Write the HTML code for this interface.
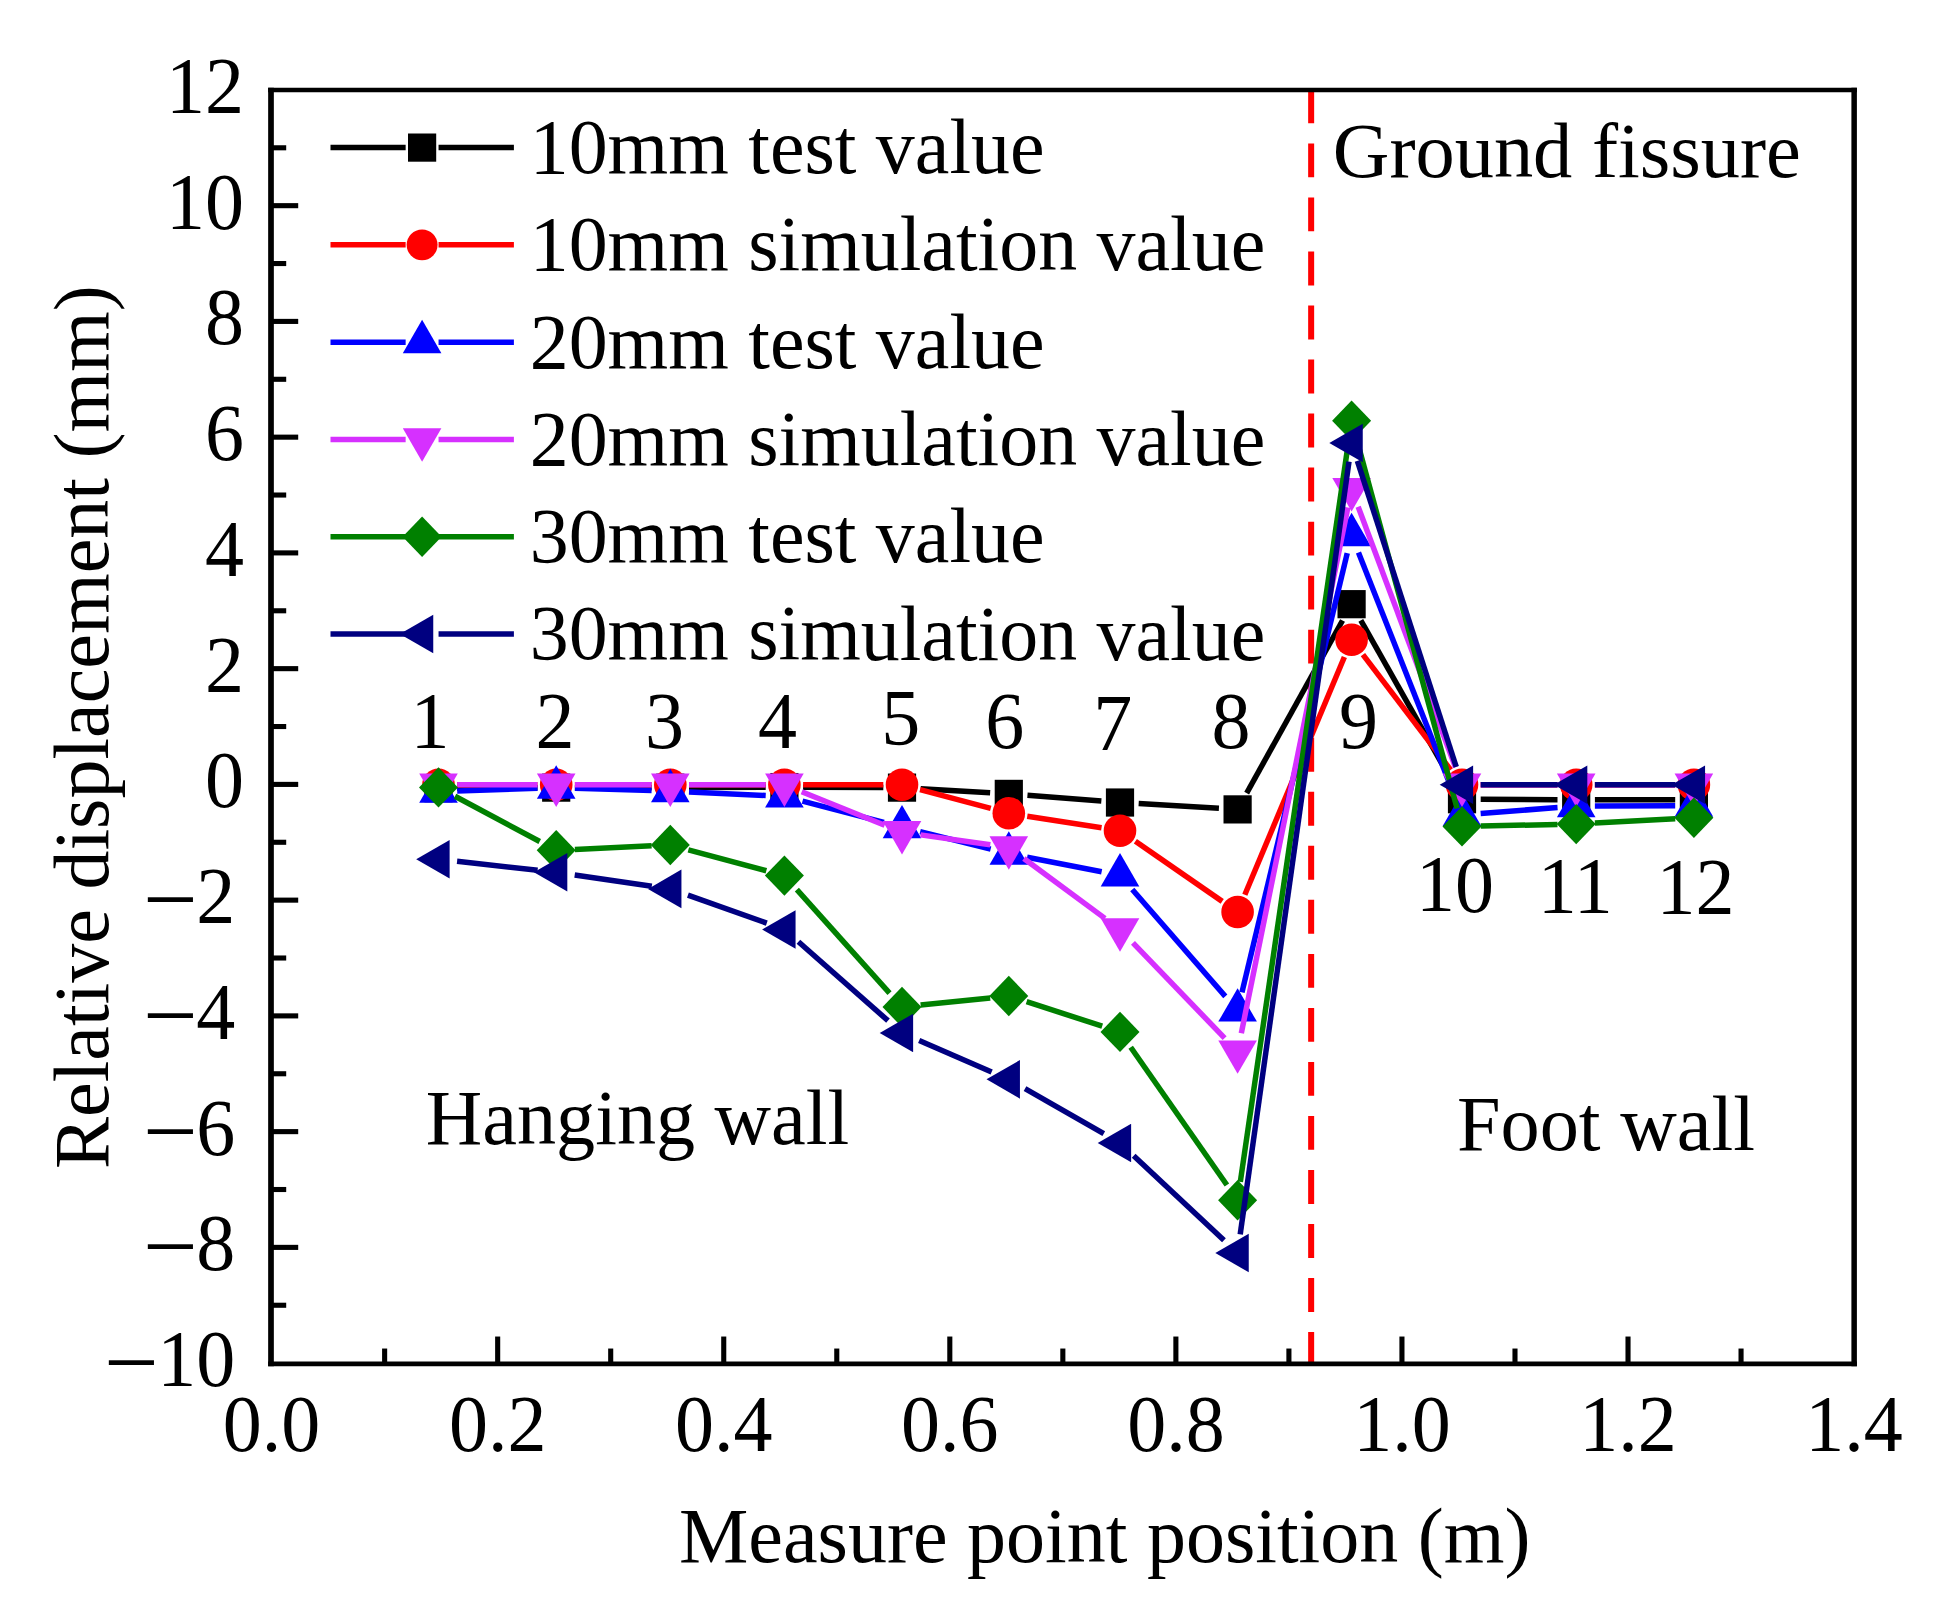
<!DOCTYPE html>
<html lang="en"><head><meta charset="utf-8"><title>Relative displacement vs measure point position</title>
<style>html,body{margin:0;padding:0;background:#fff}body{width:1950px;height:1615px;overflow:hidden}svg text{white-space:pre}</style></head>
<body>
<svg width="1950" height="1615" viewBox="0 0 1950 1615" style="display:block" font-family='"Liberation Serif", serif' font-size="78.0" fill="#000">
<rect x="0" y="0" width="1950" height="1615" fill="#fff"/>
<line x1="1311.15" y1="89.4" x2="1311.15" y2="1366.8" stroke="#FF0000" stroke-width="6" stroke-dasharray="33.9 20.13"/>
<g stroke="#000000" stroke-width="5.5" fill="none">
<line x1="457.20" y1="788.13" x2="537.50" y2="787.74"/>
<line x1="574.90" y1="787.64" x2="651.60" y2="787.64"/>
<line x1="689.00" y1="787.55" x2="765.70" y2="787.16"/>
<line x1="803.10" y1="787.16" x2="883.30" y2="787.55"/>
<line x1="920.67" y1="788.74" x2="990.13" y2="792.80"/>
<line x1="1027.44" y1="795.34" x2="1101.36" y2="801.07"/>
<line x1="1138.67" y1="803.61" x2="1218.93" y2="808.31"/>
<line x1="1246.68" y1="793.06" x2="1342.52" y2="620.53"/>
<line x1="1360.81" y1="620.45" x2="1452.79" y2="782.94"/>
<line x1="1480.70" y1="799.31" x2="1557.50" y2="799.70"/>
<line x1="1594.90" y1="799.80" x2="1675.20" y2="799.80"/>
</g>
<g>
<rect x="424.40" y="774.12" width="28.20" height="28.20" fill="#000000"/>
<rect x="542.10" y="773.54" width="28.20" height="28.20" fill="#000000"/>
<rect x="656.20" y="773.54" width="28.20" height="28.20" fill="#000000"/>
<rect x="770.30" y="772.97" width="28.20" height="28.20" fill="#000000"/>
<rect x="887.90" y="773.54" width="28.20" height="28.20" fill="#000000"/>
<rect x="994.70" y="779.79" width="28.20" height="28.20" fill="#000000"/>
<rect x="1105.90" y="788.42" width="28.20" height="28.20" fill="#000000"/>
<rect x="1223.50" y="795.30" width="28.20" height="28.20" fill="#000000"/>
<rect x="1337.50" y="590.08" width="28.20" height="28.20" fill="#000000"/>
<rect x="1447.90" y="785.12" width="28.20" height="28.20" fill="#000000"/>
<rect x="1562.10" y="785.70" width="28.20" height="28.20" fill="#000000"/>
<rect x="1679.80" y="785.70" width="28.20" height="28.20" fill="#000000"/>
</g>
<g stroke="#FF0000" stroke-width="5.5" fill="none">
<line x1="457.20" y1="784.75" x2="537.50" y2="784.75"/>
<line x1="574.90" y1="784.75" x2="651.60" y2="784.75"/>
<line x1="689.00" y1="784.75" x2="765.70" y2="784.75"/>
<line x1="803.10" y1="784.75" x2="883.30" y2="784.75"/>
<line x1="920.07" y1="789.58" x2="990.73" y2="808.46"/>
<line x1="1027.27" y1="816.18" x2="1101.53" y2="827.81"/>
<line x1="1135.38" y1="841.34" x2="1222.22" y2="901.38"/>
<line x1="1244.82" y1="894.77" x2="1344.38" y2="656.96"/>
<line x1="1362.93" y1="654.59" x2="1450.67" y2="769.87"/>
<line x1="1480.70" y1="784.75" x2="1557.50" y2="784.75"/>
<line x1="1594.90" y1="784.75" x2="1675.20" y2="784.75"/>
</g>
<g>
<circle cx="438.50" cy="784.75" r="16.3" fill="#FF0000"/>
<circle cx="556.20" cy="784.75" r="16.3" fill="#FF0000"/>
<circle cx="670.30" cy="784.75" r="16.3" fill="#FF0000"/>
<circle cx="784.40" cy="784.75" r="16.3" fill="#FF0000"/>
<circle cx="902.00" cy="784.75" r="16.3" fill="#FF0000"/>
<circle cx="1008.80" cy="813.28" r="16.3" fill="#FF0000"/>
<circle cx="1120.00" cy="830.70" r="16.3" fill="#FF0000"/>
<circle cx="1237.60" cy="912.02" r="16.3" fill="#FF0000"/>
<circle cx="1351.60" cy="639.72" r="16.3" fill="#FF0000"/>
<circle cx="1462.00" cy="784.75" r="16.3" fill="#FF0000"/>
<circle cx="1576.20" cy="784.75" r="16.3" fill="#FF0000"/>
<circle cx="1693.90" cy="784.75" r="16.3" fill="#FF0000"/>
</g>
<g stroke="#0000FF" stroke-width="5.5" fill="none">
<line x1="457.19" y1="791.05" x2="537.51" y2="788.29"/>
<line x1="574.89" y1="788.21" x2="651.61" y2="790.55"/>
<line x1="688.98" y1="791.97" x2="765.72" y2="795.47"/>
<line x1="802.49" y1="801.07" x2="883.91" y2="822.43"/>
<line x1="920.15" y1="831.67" x2="990.65" y2="849.13"/>
<line x1="1027.15" y1="857.21" x2="1101.65" y2="871.79"/>
<line x1="1132.28" y1="889.49" x2="1225.32" y2="996.36"/>
<line x1="1241.96" y1="992.28" x2="1347.24" y2="553.20"/>
<line x1="1358.46" y1="552.41" x2="1455.14" y2="797.45"/>
<line x1="1480.65" y1="813.43" x2="1557.55" y2="807.58"/>
<line x1="1594.90" y1="806.07" x2="1675.20" y2="805.68"/>
</g>
<g>
<polygon points="438.50,769.41 419.20,802.84 457.80,802.84" fill="#0000FF"/>
<polygon points="556.20,765.36 536.90,798.79 575.50,798.79" fill="#0000FF"/>
<polygon points="670.30,768.83 651.00,802.26 689.60,802.26" fill="#0000FF"/>
<polygon points="784.40,774.04 765.10,807.47 803.70,807.47" fill="#0000FF"/>
<polygon points="902.00,804.89 882.70,838.32 921.30,838.32" fill="#0000FF"/>
<polygon points="1008.80,831.34 989.50,864.76 1028.10,864.76" fill="#0000FF"/>
<polygon points="1120.00,853.10 1100.70,886.53 1139.30,886.53" fill="#0000FF"/>
<polygon points="1237.60,988.18 1218.30,1021.61 1256.90,1021.61" fill="#0000FF"/>
<polygon points="1351.60,512.73 1332.30,546.16 1370.90,546.16" fill="#0000FF"/>
<polygon points="1462.00,792.56 1442.70,825.99 1481.30,825.99" fill="#0000FF"/>
<polygon points="1576.20,783.88 1556.90,817.31 1595.50,817.31" fill="#0000FF"/>
<polygon points="1693.90,783.30 1674.60,816.73 1713.20,816.73" fill="#0000FF"/>
</g>
<g stroke="#D630FF" stroke-width="5.5" fill="none">
<line x1="457.20" y1="784.75" x2="537.50" y2="784.75"/>
<line x1="574.90" y1="784.75" x2="651.60" y2="784.75"/>
<line x1="689.00" y1="784.75" x2="765.70" y2="784.75"/>
<line x1="801.74" y1="791.75" x2="884.66" y2="825.21"/>
<line x1="920.51" y1="834.85" x2="990.29" y2="844.79"/>
<line x1="1023.85" y1="858.53" x2="1104.95" y2="918.34"/>
<line x1="1132.97" y1="942.91" x2="1224.63" y2="1038.08"/>
<line x1="1241.32" y1="1033.23" x2="1347.88" y2="507.51"/>
<line x1="1358.14" y1="506.70" x2="1455.46" y2="767.23"/>
<line x1="1480.70" y1="784.75" x2="1557.50" y2="784.75"/>
<line x1="1594.90" y1="784.75" x2="1675.20" y2="784.75"/>
</g>
<g>
<polygon points="438.50,807.04 419.20,773.61 457.80,773.61" fill="#D630FF"/>
<polygon points="556.20,807.04 536.90,773.61 575.50,773.61" fill="#D630FF"/>
<polygon points="670.30,807.04 651.00,773.61 689.60,773.61" fill="#D630FF"/>
<polygon points="784.40,807.04 765.10,773.61 803.70,773.61" fill="#D630FF"/>
<polygon points="902.00,854.49 882.70,821.06 921.30,821.06" fill="#D630FF"/>
<polygon points="1008.80,869.71 989.50,836.29 1028.10,836.29" fill="#D630FF"/>
<polygon points="1120.00,951.72 1100.70,918.29 1139.30,918.29" fill="#D630FF"/>
<polygon points="1237.60,1073.84 1218.30,1040.41 1256.90,1040.41" fill="#D630FF"/>
<polygon points="1351.60,511.47 1332.30,478.04 1370.90,478.04" fill="#D630FF"/>
<polygon points="1462.00,807.04 1442.70,773.61 1481.30,773.61" fill="#D630FF"/>
<polygon points="1576.20,807.04 1556.90,773.61 1595.50,773.61" fill="#D630FF"/>
<polygon points="1693.90,807.04 1674.60,773.61 1713.20,773.61" fill="#D630FF"/>
</g>
<g stroke="#008000" stroke-width="5.5" fill="none">
<line x1="454.99" y1="796.23" x2="539.71" y2="841.51"/>
<line x1="574.88" y1="849.44" x2="651.62" y2="845.82"/>
<line x1="688.36" y1="849.79" x2="766.34" y2="870.76"/>
<line x1="796.87" y1="889.55" x2="889.53" y2="993.06"/>
<line x1="920.60" y1="1005.07" x2="990.20" y2="997.91"/>
<line x1="1026.60" y1="1001.74" x2="1102.20" y2="1026.13"/>
<line x1="1130.71" y1="1047.21" x2="1226.89" y2="1184.96"/>
<line x1="1240.31" y1="1181.79" x2="1348.89" y2="439.22"/>
<line x1="1356.51" y1="438.76" x2="1457.09" y2="808.38"/>
<line x1="1480.70" y1="826.04" x2="1557.50" y2="824.48"/>
<line x1="1594.87" y1="823.10" x2="1675.23" y2="818.75"/>
</g>
<g>
<polygon points="438.50,767.21 458.00,787.41 438.50,807.61 419.00,787.41" fill="#008000"/>
<polygon points="556.20,830.12 575.70,850.32 556.20,870.52 536.70,850.32" fill="#008000"/>
<polygon points="670.30,824.74 689.80,844.94 670.30,865.14 650.80,844.94" fill="#008000"/>
<polygon points="784.40,855.41 803.90,875.61 784.40,895.81 764.90,875.61" fill="#008000"/>
<polygon points="902.00,986.79 921.50,1006.99 902.00,1027.19 882.50,1006.99" fill="#008000"/>
<polygon points="1008.80,975.79 1028.30,995.99 1008.80,1016.19 989.30,995.99" fill="#008000"/>
<polygon points="1120.00,1011.68 1139.50,1031.88 1120.00,1052.08 1100.50,1031.88" fill="#008000"/>
<polygon points="1237.60,1180.09 1257.10,1200.29 1237.60,1220.49 1218.10,1200.29" fill="#008000"/>
<polygon points="1351.60,400.52 1371.10,420.72 1351.60,440.92 1332.10,420.72" fill="#008000"/>
<polygon points="1462.00,806.22 1481.50,826.42 1462.00,846.62 1442.50,826.42" fill="#008000"/>
<polygon points="1576.20,803.90 1595.70,824.11 1576.20,844.31 1556.70,824.11" fill="#008000"/>
<polygon points="1693.90,797.54 1713.40,817.74 1693.90,837.94 1674.40,817.74" fill="#008000"/>
</g>
<g stroke="#000080" stroke-width="5.5" fill="none">
<line x1="457.08" y1="861.25" x2="537.62" y2="870.24"/>
<line x1="574.70" y1="875.01" x2="651.80" y2="886.23"/>
<line x1="687.92" y1="895.18" x2="766.78" y2="923.18"/>
<line x1="798.43" y1="941.80" x2="887.97" y2="1020.67"/>
<line x1="919.16" y1="1040.47" x2="991.64" y2="1071.90"/>
<line x1="1025.03" y1="1088.62" x2="1103.77" y2="1133.71"/>
<line x1="1133.66" y1="1155.77" x2="1223.94" y2="1240.19"/>
<line x1="1240.21" y1="1234.44" x2="1348.99" y2="461.52"/>
<line x1="1357.35" y1="460.79" x2="1456.25" y2="766.96"/>
<line x1="1480.70" y1="784.75" x2="1557.50" y2="784.75"/>
<line x1="1594.90" y1="784.75" x2="1675.20" y2="784.75"/>
</g>
<g>
<polygon points="416.21,859.18 449.64,839.88 449.64,878.48" fill="#000080"/>
<polygon points="533.91,872.31 567.34,853.01 567.34,891.61" fill="#000080"/>
<polygon points="648.01,888.92 681.44,869.62 681.44,908.22" fill="#000080"/>
<polygon points="762.11,929.44 795.54,910.14 795.54,948.74" fill="#000080"/>
<polygon points="879.71,1033.03 913.14,1013.73 913.14,1052.33" fill="#000080"/>
<polygon points="986.51,1079.33 1019.94,1060.03 1019.94,1098.63" fill="#000080"/>
<polygon points="1097.71,1143.00 1131.14,1123.70 1131.14,1162.30" fill="#000080"/>
<polygon points="1215.31,1252.96 1248.74,1233.66 1248.74,1272.26" fill="#000080"/>
<polygon points="1329.31,443.00 1362.74,423.70 1362.74,462.30" fill="#000080"/>
<polygon points="1439.71,784.75 1473.14,765.45 1473.14,804.05" fill="#000080"/>
<polygon points="1553.91,784.75 1587.34,765.45 1587.34,804.05" fill="#000080"/>
<polygon points="1671.61,784.75 1705.04,765.45 1705.04,804.05" fill="#000080"/>
</g>
<g stroke="#000" stroke-width="5.1" fill="none" stroke-linecap="butt">
<line x1="271.0" y1="87.65" x2="271.0" y2="1366.20" stroke-width="5.7"/>
<line x1="1854.15" y1="87.65" x2="1854.15" y2="1366.20" stroke-width="5.5"/>
<line x1="268.15" y1="90.00" x2="1856.9" y2="90.00" stroke-width="4.7"/>
<line x1="268.15" y1="1363.80" x2="1856.9" y2="1363.80" stroke-width="4.8"/>
<line x1="271.60" y1="1305.25" x2="286.20" y2="1305.25"/>
<line x1="271.60" y1="1247.38" x2="298.20" y2="1247.38"/>
<line x1="271.60" y1="1189.51" x2="286.20" y2="1189.51"/>
<line x1="271.60" y1="1131.63" x2="298.20" y2="1131.63"/>
<line x1="271.60" y1="1073.76" x2="286.20" y2="1073.76"/>
<line x1="271.60" y1="1015.89" x2="298.20" y2="1015.89"/>
<line x1="271.60" y1="958.01" x2="286.20" y2="958.01"/>
<line x1="271.60" y1="900.14" x2="298.20" y2="900.14"/>
<line x1="271.60" y1="842.27" x2="286.20" y2="842.27"/>
<line x1="271.60" y1="784.40" x2="298.20" y2="784.40"/>
<line x1="271.60" y1="726.52" x2="286.20" y2="726.52"/>
<line x1="271.60" y1="668.65" x2="298.20" y2="668.65"/>
<line x1="271.60" y1="610.78" x2="286.20" y2="610.78"/>
<line x1="271.60" y1="552.90" x2="298.20" y2="552.90"/>
<line x1="271.60" y1="495.03" x2="286.20" y2="495.03"/>
<line x1="271.60" y1="437.16" x2="298.20" y2="437.16"/>
<line x1="271.60" y1="379.29" x2="286.20" y2="379.29"/>
<line x1="271.60" y1="321.41" x2="298.20" y2="321.41"/>
<line x1="271.60" y1="263.54" x2="286.20" y2="263.54"/>
<line x1="271.60" y1="205.67" x2="298.20" y2="205.67"/>
<line x1="271.60" y1="147.79" x2="286.20" y2="147.79"/>
<line x1="384.63" y1="1363.80" x2="384.63" y2="1348.53"/>
<line x1="497.67" y1="1363.80" x2="497.67" y2="1336.53"/>
<line x1="610.70" y1="1363.80" x2="610.70" y2="1348.53"/>
<line x1="723.74" y1="1363.80" x2="723.74" y2="1336.53"/>
<line x1="836.77" y1="1363.80" x2="836.77" y2="1348.53"/>
<line x1="949.81" y1="1363.80" x2="949.81" y2="1336.53"/>
<line x1="1062.84" y1="1363.80" x2="1062.84" y2="1348.53"/>
<line x1="1175.88" y1="1363.80" x2="1175.88" y2="1336.53"/>
<line x1="1288.91" y1="1363.80" x2="1288.91" y2="1348.53"/>
<line x1="1401.95" y1="1363.80" x2="1401.95" y2="1336.53"/>
<line x1="1514.99" y1="1363.80" x2="1514.99" y2="1348.53"/>
<line x1="1628.02" y1="1363.80" x2="1628.02" y2="1336.53"/>
<line x1="1741.05" y1="1363.80" x2="1741.05" y2="1348.53"/>
</g>
<text transform="translate(103.90 1395.23) rotate(0.01)" font-size="97">−</text>
<text transform="translate(235.30 1386.13) rotate(0.01) scale(1 1.03)" text-anchor="end">10</text>
<text transform="translate(143.05 1279.48) rotate(0.01)" font-size="97">−</text>
<text transform="translate(235.30 1270.38) rotate(0.01) scale(1 1.03)" text-anchor="end">8</text>
<text transform="translate(143.05 1163.73) rotate(0.01)" font-size="97">−</text>
<text transform="translate(235.30 1154.63) rotate(0.01) scale(1 1.03)" text-anchor="end">6</text>
<text transform="translate(143.05 1047.99) rotate(0.01)" font-size="97">−</text>
<text transform="translate(235.30 1038.89) rotate(0.01) scale(1 1.03)" text-anchor="end">4</text>
<text transform="translate(143.05 932.24) rotate(0.01)" font-size="97">−</text>
<text transform="translate(235.30 923.14) rotate(0.01) scale(1 1.03)" text-anchor="end">2</text>
<text transform="translate(244.00 807.40) rotate(0.01) scale(1 1.03)" text-anchor="end">0</text>
<text transform="translate(244.00 691.65) rotate(0.01) scale(1 1.03)" text-anchor="end">2</text>
<text transform="translate(244.00 575.90) rotate(0.01) scale(1 1.03)" text-anchor="end">4</text>
<text transform="translate(244.00 460.16) rotate(0.01) scale(1 1.03)" text-anchor="end">6</text>
<text transform="translate(244.00 344.41) rotate(0.01) scale(1 1.03)" text-anchor="end">8</text>
<text transform="translate(244.00 228.67) rotate(0.01) scale(1 1.03)" text-anchor="end">10</text>
<text transform="translate(244.00 112.92) rotate(0.01) scale(1 1.03)" text-anchor="end">12</text>
<text transform="translate(271.60 1451.00) rotate(0.01) scale(1 1.03)" text-anchor="middle">0.0</text>
<text transform="translate(497.67 1451.00) rotate(0.01) scale(1 1.03)" text-anchor="middle">0.2</text>
<text transform="translate(723.74 1451.00) rotate(0.01) scale(1 1.03)" text-anchor="middle">0.4</text>
<text transform="translate(949.81 1451.00) rotate(0.01) scale(1 1.03)" text-anchor="middle">0.6</text>
<text transform="translate(1175.88 1451.00) rotate(0.01) scale(1 1.03)" text-anchor="middle">0.8</text>
<text transform="translate(1401.95 1451.00) rotate(0.01) scale(1 1.03)" text-anchor="middle">1.0</text>
<text transform="translate(1628.02 1451.00) rotate(0.01) scale(1 1.03)" text-anchor="middle">1.2</text>
<text transform="translate(1854.09 1451.00) rotate(0.01) scale(1 1.03)" text-anchor="middle">1.4</text>
<text transform="translate(679.00 1561.90) rotate(0.01)">Measure point position (m)</text>
<text transform="translate(107.9 1169.0) rotate(-89.99)">Relative displacement (mm)</text>
<g stroke="#000000" stroke-width="5.5"><line x1="330.5" y1="147.60" x2="405.65" y2="147.60"/><line x1="438.55" y1="147.60" x2="513.9" y2="147.60"/></g>
<rect x="408.00" y="133.50" width="28.20" height="28.20" fill="#000000"/>
<text transform="translate(529.70 173.10) rotate(0.01)" font-size="77.9">10mm test value</text>
<g stroke="#FF0000" stroke-width="5.5"><line x1="330.5" y1="244.87" x2="405.65" y2="244.87"/><line x1="438.55" y1="244.87" x2="513.9" y2="244.87"/></g>
<circle cx="422.10" cy="244.87" r="15.45" fill="#FF0000"/>
<text transform="translate(529.70 270.37) rotate(0.01)" font-size="77.9">10mm simulation value</text>
<g stroke="#0000FF" stroke-width="5.5"><line x1="330.5" y1="342.14" x2="405.65" y2="342.14"/><line x1="438.55" y1="342.14" x2="513.9" y2="342.14"/></g>
<polygon points="422.10,319.85 402.80,353.28 441.40,353.28" fill="#0000FF"/>
<text transform="translate(529.70 367.64) rotate(0.01)" font-size="77.9">20mm test value</text>
<g stroke="#D630FF" stroke-width="5.5"><line x1="330.5" y1="439.41" x2="405.65" y2="439.41"/><line x1="438.55" y1="439.41" x2="513.9" y2="439.41"/></g>
<polygon points="422.10,461.70 402.80,428.27 441.40,428.27" fill="#D630FF"/>
<text transform="translate(529.70 464.91) rotate(0.01)" font-size="77.9">20mm simulation value</text>
<g stroke="#008000" stroke-width="5.5"><line x1="330.5" y1="536.68" x2="405.65" y2="536.68"/><line x1="438.55" y1="536.68" x2="513.9" y2="536.68"/></g>
<polygon points="422.10,516.48 441.60,536.68 422.10,556.88 402.60,536.68" fill="#008000"/>
<text transform="translate(529.70 562.18) rotate(0.01)" font-size="77.9">30mm test value</text>
<g stroke="#000080" stroke-width="5.5"><line x1="330.5" y1="633.95" x2="405.65" y2="633.95"/><line x1="438.55" y1="633.95" x2="513.9" y2="633.95"/></g>
<polygon points="399.81,633.95 433.24,614.65 433.24,653.25" fill="#000080"/>
<text transform="translate(529.70 659.45) rotate(0.01)" font-size="77.9">30mm simulation value</text>
<text transform="translate(1332.80 176.70) rotate(0.01)" font-size="78.4" style="font-variant-ligatures:none">Ground fissure</text>
<text transform="translate(425.80 1143.70) rotate(0.01)" font-size="78.2">Hanging wall</text>
<text transform="translate(1457.00 1149.60) rotate(0.01)" font-size="78.3">Foot wall</text>
<text transform="translate(430.00 748.50) rotate(0.01) scale(1 1.03)" text-anchor="middle">1</text>
<text transform="translate(555.00 748.00) rotate(0.01) scale(1 1.03)" text-anchor="middle">2</text>
<text transform="translate(664.60 748.00) rotate(0.01) scale(1 1.03)" text-anchor="middle">3</text>
<text transform="translate(777.50 748.50) rotate(0.01) scale(1 1.03)" text-anchor="middle">4</text>
<text transform="translate(900.85 745.00) rotate(0.01) scale(1 1.03)" text-anchor="middle">5</text>
<text transform="translate(1004.70 747.80) rotate(0.01) scale(1 1.03)" text-anchor="middle">6</text>
<text transform="translate(1112.80 749.60) rotate(0.01) scale(1 1.03)" text-anchor="middle">7</text>
<text transform="translate(1231.10 748.20) rotate(0.01) scale(1 1.03)" text-anchor="middle">8</text>
<text transform="translate(1358.50 748.20) rotate(0.01) scale(1 1.03)" text-anchor="middle">9</text>
<text transform="translate(1454.90 911.50) rotate(0.01) scale(1 1.03)" text-anchor="middle">10</text>
<text transform="translate(1575.30 912.70) rotate(0.01) scale(1 1.03)" text-anchor="middle">11</text>
<text transform="translate(1695.40 914.00) rotate(0.01) scale(1 1.03)" text-anchor="middle">12</text>
</svg>
</body></html>
